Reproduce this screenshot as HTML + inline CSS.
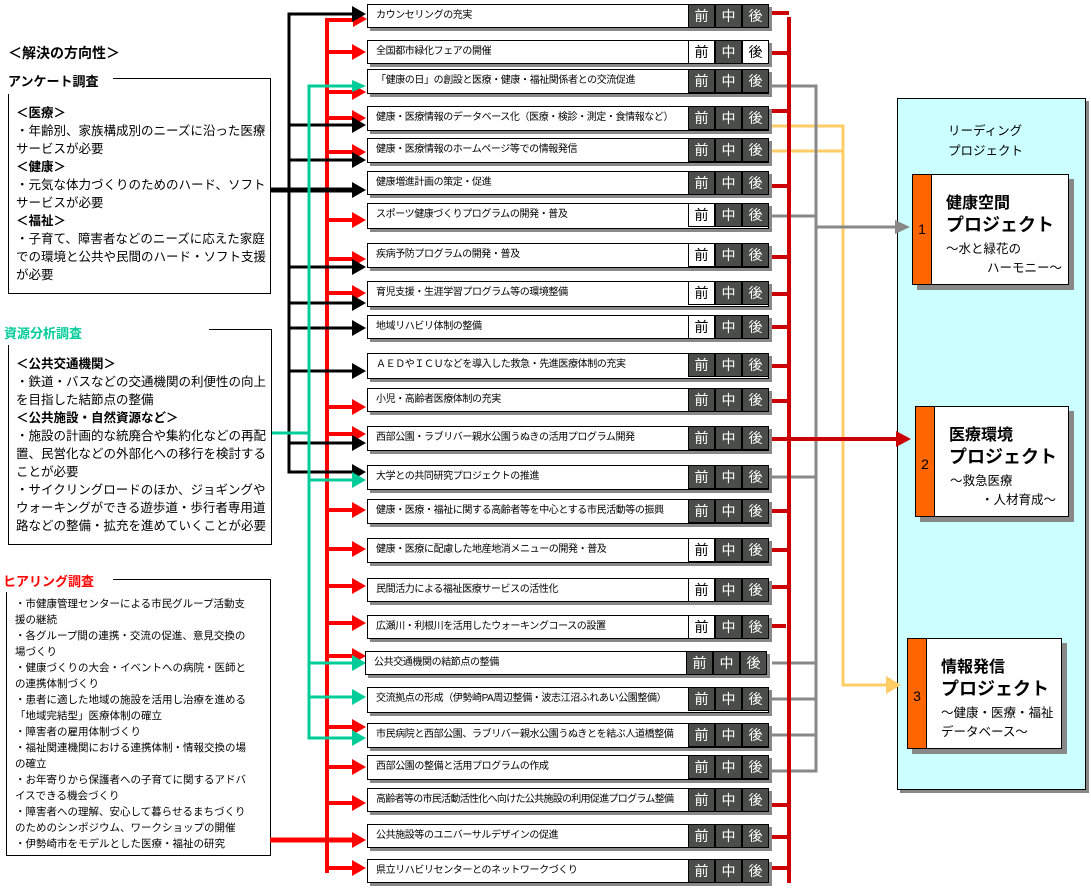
<!DOCTYPE html>
<html><head><meta charset="utf-8"><style>
*{margin:0;padding:0;box-sizing:border-box}
body{width:1091px;height:889px;background:#fff;position:relative;overflow:hidden;font-family:"Liberation Sans","Noto Sans CJK JP",sans-serif;color:#000}
.a{position:absolute}
.row{position:absolute;left:367px;width:402px;height:24px;border:1px solid #000;background:#fff;box-shadow:3px 3px 0 #888;font-size:10px;letter-spacing:-0.4px;line-height:22px;padding-left:8px;white-space:nowrap;overflow:visible}
.c{position:absolute;top:-1px;width:27px;height:24px;background:#4a4d4a;color:#fff;border:1px solid #000;font-size:14px;letter-spacing:0;line-height:22px;text-align:center}
.c1{right:53px}.c2{right:26px}.c3{right:-1px}
.w{background:#fff;color:#000}
.lt{font-size:12.5px;line-height:18px;white-space:nowrap}
.pb{position:absolute;background:#fff;border:1px solid #000;box-shadow:5px 5px 0 #888}
.pb .s{position:absolute;left:0;top:0;bottom:0;width:19px;background:#ff6600;border-right:1px solid #000;font-size:14px;text-align:center}
.pb .t{position:absolute;left:33px;font-weight:bold;white-space:nowrap}
.pb .u{position:absolute;font-size:12.5px;white-space:nowrap}
</style></head><body>

<div class="a" style="left:8px;top:43px;font-size:14px;font-weight:bold">＜解決の方向性＞</div>

<div class="a" style="left:8px;top:94px;width:263px;height:200px;border-left:1px solid #000;border-right:1px solid #000;border-bottom:1px solid #000"></div>
<div class="a" style="left:113px;top:78px;width:158px;height:17px;border-top:1px solid #000;border-right:1px solid #000"></div>
<div class="a" style="left:8px;top:71px;font-size:13px;font-weight:bold">アンケート調査</div>
<div class="a lt" style="left:16px;top:104px"><b>＜医療＞</b><br>・年齢別、家族構成別のニーズに沿った医療<br>サービスが必要<br><b>＜健康＞</b><br>・元気な体力づくりのためのハード、ソフト<br>サービスが必要<br><b>＜福祉＞</b><br>・子育て、障害者などのニーズに応えた家庭<br>での環境と公共や民間のハード・ソフト支援<br>が必要</div>

<div class="a" style="left:8px;top:345px;width:264px;height:200px;border-left:1px solid #000;border-right:1px solid #000;border-bottom:1px solid #000"></div>
<div class="a" style="left:209px;top:329px;width:63px;height:17px;border-top:1px solid #000;border-right:1px solid #000"></div>
<div class="a" style="left:4px;top:323px;font-size:13px;font-weight:bold;color:#00cc99">資源分析調査</div>
<div class="a lt" style="left:16px;top:355px"><b>＜公共交通機関＞</b><br>・鉄道・バスなどの交通機関の利便性の向上<br>を目指した結節点の整備<br><b>＜公共施設・自然資源など＞</b><br>・施設の計画的な統廃合や集約化などの再配<br>置、民営化などの外部化への移行を検討する<br>ことが必要<br>・サイクリングロードのほか、ジョギングや<br>ウォーキングができる遊歩道・歩行者専用道<br>路などの整備・拡充を進めていくことが必要</div>

<div class="a" style="left:6px;top:592px;width:265px;height:264px;border-left:1px solid #000;border-right:1px solid #000;border-bottom:1px solid #000"></div>
<div class="a" style="left:113px;top:579px;width:158px;height:14px;border-top:1px solid #000;border-right:1px solid #000"></div>
<div class="a" style="left:3px;top:571px;font-size:13px;font-weight:bold;color:#ff0000">ヒアリング調査</div>
<div class="a" style="left:15px;top:596px;font-size:10.5px;line-height:16px;white-space:nowrap">・市健康管理センターによる市民グループ活動支<br>援の継続<br>・各グループ間の連携・交流の促進、意見交換の<br>場づくり<br>・健康づくりの大会・イベントへの病院・医師と<br>の連携体制づくり<br>・患者に適した地域の施設を活用し治療を進める<br>「地域完結型」医療体制の確立<br>・障害者の雇用体制づくり<br>・福祉関連機関における連携体制・情報交換の場<br>の確立<br>・お年寄りから保護者への子育てに関するアドバ<br>イスできる機会づくり<br>・障害者への理解、安心して暮らせるまちづくり<br>のためのシンポジウム、ワークショップの開催<br>・伊勢崎市をモデルとした医療・福祉の研究</div>

<div class="a" style="left:897px;top:98px;width:189px;height:692px;background:#ccffff;border:1px solid #000;box-shadow:3px 3px 0 #888"></div>
<div class="a" style="left:948px;top:121px;font-size:12.5px;line-height:20px">リーディング<br>プロジェクト</div>
<div class="pb" style="left:912px;top:174px;width:157px;height:111px"><div class="s" style="line-height:109px">1</div>
<div class="t" style="top:14px;font-size:16px">健康空間</div><div class="t" style="top:36px;font-size:18px">プロジェクト</div>
<div class="u" style="left:33px;top:63px">～水と緑花の</div><div class="u" style="left:74px;top:82px">ハーモニー～</div></div>
<div class="pb" style="left:915px;top:406px;width:154px;height:111px"><div class="s" style="line-height:115px">2</div>
<div class="t" style="top:14px;font-size:16px">医療環境</div><div class="t" style="top:36px;font-size:18px">プロジェクト</div>
<div class="u" style="left:34px;top:63px">～救急医療</div><div class="u" style="left:65px;top:82px">・人材育成～</div></div>
<div class="pb" style="left:907px;top:638px;width:155px;height:111px"><div class="s" style="line-height:115px">3</div>
<div class="t" style="top:14px;font-size:16px">情報発信</div><div class="t" style="top:36px;font-size:18px">プロジェクト</div>
<div class="u" style="left:33px;top:63px">～健康・医療・福祉</div><div class="u" style="left:33px;top:82px">データベース～</div></div>

<svg class="a" style="left:0;top:0" width="1091" height="889">
<g stroke="#ff0000" fill="none">
<polyline points="327,873 327,20 354,20" stroke-width="4"/>
<path d="M327 52H354M327 92H354M327 118H354M327 152H354M327 220H354M327 259H354M327 293H354M327 407H354M327 434H354M327 510H354M327 549H354M327 586H354M327 623H354M327 656H354M327 727H354M327 767H354M327 803H354M327 868H354" stroke-width="4"/>
<path d="M270 840H354" stroke-width="5"/>
</g>
<g fill="#ff0000">
<path d="M353 11L367 19L353 27ZM352 44L366 52L352 60ZM352 84L366 92L352 100ZM352 110L366 118L352 126ZM352 144L366 152L352 160ZM352 212L366 220L352 228ZM352 251L366 259L352 267ZM352 285L366 293L352 301ZM352 399L366 407L352 415ZM352 426L366 434L352 442ZM352 502L366 510L352 518ZM352 541L366 549L352 557ZM352 578L366 586L352 594ZM352 615L366 623L352 631ZM352 648L366 656L352 664ZM352 719L366 727L352 735ZM352 759L366 767L352 775ZM352 795L366 803L352 811ZM352 832L366 840L352 848ZM352 860L366 868L352 876Z"/>
</g>
<g stroke="#000" fill="none" stroke-width="3">
<polyline points="354,14 289,14 289,472 354,472"/>
<path d="M289 125H354M289 160H354M289 267H354M289 303H354M289 328H354M289 371H354M289 443H354"/>
<path d="M270 190H354" stroke-width="5"/>
</g>
<g fill="#000">
<path d="M352 6L366 14L352 22ZM352 117L366 125L352 133ZM352 152L366 160L352 168ZM352 182L366 190L352 198ZM352 259L366 267L352 275ZM352 295L366 303L352 311ZM352 320L366 328L352 336ZM352 363L366 371L352 379ZM352 435L366 443L352 451ZM352 464L366 472L352 480Z"/>
</g>
<g stroke="#00cc99" fill="none" stroke-width="3">
<polyline points="356,86 309,86 309,738 354,738"/>
<path d="M272 433H309M309 480H354M309 663H354M309 697H354"/>
</g>
<g fill="#00cc99">
<path d="M352 80L366 86L352 92ZM352 472L366 480L352 488ZM352 655L366 663L352 671ZM352 689L366 697L352 705ZM352 730L366 738L352 746Z"/>
</g>
<g stroke="#ffcc66" fill="none" stroke-width="3">
<polyline points="772,126 843,126 843,685 888,685"/>
<path d="M772 151H843"/>
</g>
<path d="M886 676L901 685L886 694Z" fill="#ffcc66"/>
<g stroke="#888" fill="none" stroke-width="3">
<polyline points="772,86 816,86 816,771 772,771"/>
<path d="M772 216H816M816 227H897M772 477H816M772 663H816M772 699H816M772 735H816"/>
</g>
<path d="M895 220L910 227L895 234Z" fill="#888"/>
<g stroke="#cc0000" fill="none" stroke-width="4">
<path d="M789 17V883"/>
<path d="M772 13H789M772 53H789M772 111H789M772 186H789M772 257H789M772 294H789M772 327H789M772 366H789M772 401H789M772 511H789M772 550H789M772 587H789M772 626H786M772 805H789M772 837H789M772 868H789"/>
<path d="M772 439H898"/>
</g>
<path d="M896 431L911 439L896 447Z" fill="#cc0000"/>
</svg>

<div class="row" style="top:4px">カウンセリングの充実<div class="c c1">前</div><div class="c c2">中</div><div class="c c3">後</div></div>
<div class="row" style="top:40px">全国都市緑化フェアの開催<div class="c c1 w">前</div><div class="c c2">中</div><div class="c c3 w">後</div></div>
<div class="row" style="top:69px;height:25px">「健康の日」の創設と医療・健康・福祉関係者との交流促進<div class="c c1">前</div><div class="c c2">中</div><div class="c c3">後</div></div>
<div class="row" style="top:106px;height:25px">健康・医療情報のデータベース化（医療・検診・測定・食情報など）<div class="c c1">前</div><div class="c c2">中</div><div class="c c3">後</div></div>
<div class="row" style="top:138px;height:25px">健康・医療情報のホームページ等での情報発信<div class="c c1">前</div><div class="c c2">中</div><div class="c c3">後</div></div>
<div class="row" style="top:171px">健康増進計画の策定・促進<div class="c c1">前</div><div class="c c2">中</div><div class="c c3">後</div></div>
<div class="row" style="top:203px;height:26px">スポーツ健康づくりプログラムの開発・普及<div class="c c1 w">前</div><div class="c c2">中</div><div class="c c3">後</div></div>
<div class="row" style="top:243px;height:25px">疾病予防プログラムの開発・普及<div class="c c1 w">前</div><div class="c c2">中</div><div class="c c3">後</div></div>
<div class="row" style="top:281px;height:26px">育児支援・生涯学習プログラム等の環境整備<div class="c c1 w">前</div><div class="c c2">中</div><div class="c c3">後</div></div>
<div class="row" style="top:315px">地域リハビリ体制の整備<div class="c c1 w">前</div><div class="c c2">中</div><div class="c c3">後</div></div>
<div class="row" style="top:353px;height:26px">ＡＥＤやＩＣＵなどを導入した救急・先進医療体制の充実<div class="c c1">前</div><div class="c c2">中</div><div class="c c3">後</div></div>
<div class="row" style="top:388px">小児・高齢者医療体制の充実<div class="c c1">前</div><div class="c c2">中</div><div class="c c3">後</div></div>
<div class="row" style="top:426px;height:25px">西部公園・ラブリバー親水公園うぬきの活用プログラム開発<div class="c c1">前</div><div class="c c2">中</div><div class="c c3">後</div></div>
<div class="row" style="top:465px;height:25px">大学との共同研究プロジェクトの推進<div class="c c1">前</div><div class="c c2">中</div><div class="c c3">後</div></div>
<div class="row" style="top:499px;height:25px">健康・医療・福祉に関する高齢者等を中心とする市民活動等の振興<div class="c c1">前</div><div class="c c2">中</div><div class="c c3">後</div></div>
<div class="row" style="top:538px;height:25px">健康・医療に配慮した地産地消メニューの開発・普及<div class="c c1 w">前</div><div class="c c2">中</div><div class="c c3">後</div></div>
<div class="row" style="top:578px">民間活力による福祉医療サービスの活性化<div class="c c1 w">前</div><div class="c c2">中</div><div class="c c3">後</div></div>
<div class="row" style="top:615px">広瀬川・利根川を活用したウォーキングコースの設置<div class="c c1 w">前</div><div class="c c2">中</div><div class="c c3">後</div></div>
<div class="row" style="top:651px;left:365px">公共交通機関の結節点の整備<div class="c c1">前</div><div class="c c2">中</div><div class="c c3">後</div></div>
<div class="row" style="top:687px;height:26px">交流拠点の形成（伊勢崎PA周辺整備・波志江沼ふれあい公園整備）<div class="c c1">前</div><div class="c c2">中</div><div class="c c3">後</div></div>
<div class="row" style="top:723px;height:25px">市民病院と西部公園、ラブリバー親水公園うぬきとを結ぶ人道橋整備<div class="c c1">前</div><div class="c c2">中</div><div class="c c3">後</div></div>
<div class="row" style="top:755px;height:25px">西部公園の整備と活用プログラムの作成<div class="c c1">前</div><div class="c c2">中</div><div class="c c3">後</div></div>
<div class="row" style="top:788px;letter-spacing:-0.7px">高齢者等の市民活動活性化へ向けた公共施設の利用促進プログラム整備<div class="c c1">前</div><div class="c c2">中</div><div class="c c3">後</div></div>
<div class="row" style="top:824px">公共施設等のユニバーサルデザインの促進<div class="c c1">前</div><div class="c c2">中</div><div class="c c3">後</div></div>
<div class="row" style="top:859px">県立リハビリセンターとのネットワークづくり<div class="c c1">前</div><div class="c c2">中</div><div class="c c3">後</div></div>

</body></html>
